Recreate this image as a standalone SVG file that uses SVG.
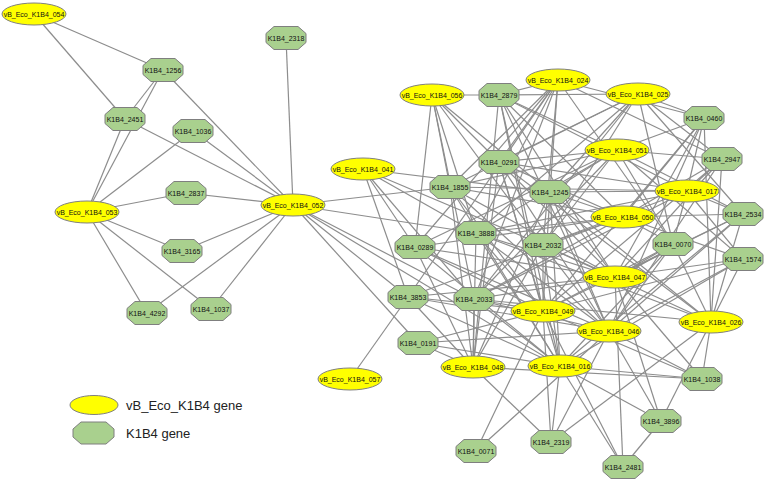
<svg xmlns="http://www.w3.org/2000/svg" xmlns:xlink="http://www.w3.org/1999/xlink" width="767" height="482" viewBox="0 0 767 482">
<style>
.e line{stroke:#8d8d8d;stroke-width:1.2;fill:none}
.y ellipse{fill:#ffff00;stroke:#808080;stroke-width:1}
.g polygon,.g use{fill:#a9d08e;stroke:#7f7f7f;stroke-width:1}
.n text{font-family:"Liberation Sans",Arial,sans-serif;font-size:7px;fill:#111;text-anchor:middle;dominant-baseline:central}
.lg{font-family:"Liberation Sans",Arial,sans-serif;font-size:13px;fill:#222}
</style>
<defs>
<polygon id="oct" points="-12,-11.5 12,-11.5 20,-4.5 20,4.5 12,11.5 -12,11.5 -20,4.5 -20,-4.5"/>
</defs>
<rect width="767" height="482" fill="#ffffff"/>
<g id="connectors" class="e">
<line x1="34" y1="14" x2="163" y2="70"/>
<line x1="34" y1="14" x2="125" y2="119"/>
<line x1="163" y1="70" x2="125" y2="119"/>
<line x1="163" y1="70" x2="293" y2="205"/>
<line x1="125" y1="119" x2="293" y2="205"/>
<line x1="125" y1="119" x2="87" y2="212"/>
<line x1="163" y1="70" x2="87" y2="212"/>
<line x1="193" y1="131" x2="87" y2="212"/>
<line x1="193" y1="131" x2="293" y2="205"/>
<line x1="186" y1="193" x2="87" y2="212"/>
<line x1="186" y1="193" x2="293" y2="205"/>
<line x1="182" y1="251" x2="87" y2="212"/>
<line x1="182" y1="251" x2="293" y2="205"/>
<line x1="147" y1="313" x2="87" y2="212"/>
<line x1="147" y1="313" x2="293" y2="205"/>
<line x1="211" y1="309" x2="87" y2="212"/>
<line x1="211" y1="309" x2="293" y2="205"/>
<line x1="286" y1="38" x2="293" y2="205"/>
<line x1="293" y1="205" x2="450" y2="187"/>
<line x1="293" y1="205" x2="476" y2="233"/>
<line x1="293" y1="205" x2="408" y2="297"/>
<line x1="293" y1="205" x2="418" y2="343"/>
<line x1="293" y1="205" x2="474" y2="299"/>
<line x1="293" y1="205" x2="560" y2="366"/>
<line x1="363" y1="169" x2="408" y2="297"/>
<line x1="363" y1="169" x2="476" y2="233"/>
<line x1="363" y1="169" x2="415" y2="247"/>
<line x1="363" y1="169" x2="543" y2="245"/>
<line x1="363" y1="169" x2="550" y2="192"/>
<line x1="363" y1="169" x2="474" y2="299"/>
<line x1="350" y1="379" x2="408" y2="297"/>
<line x1="432" y1="95" x2="499" y2="95"/>
<line x1="432" y1="95" x2="450" y2="187"/>
<line x1="432" y1="95" x2="415" y2="247"/>
<line x1="432" y1="95" x2="499" y2="162"/>
<line x1="432" y1="95" x2="550" y2="192"/>
<line x1="432" y1="95" x2="476" y2="233"/>
<line x1="432" y1="95" x2="543" y2="245"/>
<line x1="432" y1="95" x2="474" y2="299"/>
<line x1="558" y1="80" x2="499" y2="95"/>
<line x1="558" y1="80" x2="499" y2="162"/>
<line x1="558" y1="80" x2="450" y2="187"/>
<line x1="558" y1="80" x2="550" y2="192"/>
<line x1="558" y1="80" x2="476" y2="233"/>
<line x1="558" y1="80" x2="543" y2="245"/>
<line x1="558" y1="80" x2="415" y2="247"/>
<line x1="558" y1="80" x2="474" y2="299"/>
<line x1="558" y1="80" x2="704" y2="118"/>
<line x1="558" y1="80" x2="722" y2="159"/>
<line x1="558" y1="80" x2="673" y2="244"/>
<line x1="558" y1="80" x2="408" y2="297"/>
<line x1="638" y1="94" x2="499" y2="95"/>
<line x1="638" y1="94" x2="704" y2="118"/>
<line x1="638" y1="94" x2="499" y2="162"/>
<line x1="638" y1="94" x2="550" y2="192"/>
<line x1="638" y1="94" x2="476" y2="233"/>
<line x1="638" y1="94" x2="543" y2="245"/>
<line x1="638" y1="94" x2="722" y2="159"/>
<line x1="638" y1="94" x2="673" y2="244"/>
<line x1="638" y1="94" x2="743" y2="214"/>
<line x1="638" y1="94" x2="474" y2="299"/>
<line x1="638" y1="94" x2="450" y2="187"/>
<line x1="617" y1="150" x2="499" y2="95"/>
<line x1="617" y1="150" x2="499" y2="162"/>
<line x1="617" y1="150" x2="550" y2="192"/>
<line x1="617" y1="150" x2="704" y2="118"/>
<line x1="617" y1="150" x2="722" y2="159"/>
<line x1="617" y1="150" x2="476" y2="233"/>
<line x1="617" y1="150" x2="543" y2="245"/>
<line x1="617" y1="150" x2="415" y2="247"/>
<line x1="617" y1="150" x2="743" y2="214"/>
<line x1="617" y1="150" x2="474" y2="299"/>
<line x1="617" y1="150" x2="450" y2="187"/>
<line x1="617" y1="150" x2="743" y2="259"/>
<line x1="617" y1="150" x2="673" y2="244"/>
<line x1="687" y1="191" x2="704" y2="118"/>
<line x1="687" y1="191" x2="722" y2="159"/>
<line x1="687" y1="191" x2="743" y2="214"/>
<line x1="687" y1="191" x2="743" y2="259"/>
<line x1="687" y1="191" x2="673" y2="244"/>
<line x1="687" y1="191" x2="550" y2="192"/>
<line x1="687" y1="191" x2="499" y2="162"/>
<line x1="687" y1="191" x2="499" y2="95"/>
<line x1="687" y1="191" x2="476" y2="233"/>
<line x1="687" y1="191" x2="543" y2="245"/>
<line x1="687" y1="191" x2="474" y2="299"/>
<line x1="687" y1="191" x2="450" y2="187"/>
<line x1="623" y1="217" x2="704" y2="118"/>
<line x1="623" y1="217" x2="722" y2="159"/>
<line x1="623" y1="217" x2="743" y2="214"/>
<line x1="623" y1="217" x2="743" y2="259"/>
<line x1="623" y1="217" x2="673" y2="244"/>
<line x1="623" y1="217" x2="550" y2="192"/>
<line x1="623" y1="217" x2="499" y2="162"/>
<line x1="623" y1="217" x2="499" y2="95"/>
<line x1="623" y1="217" x2="476" y2="233"/>
<line x1="623" y1="217" x2="543" y2="245"/>
<line x1="623" y1="217" x2="415" y2="247"/>
<line x1="623" y1="217" x2="474" y2="299"/>
<line x1="623" y1="217" x2="408" y2="297"/>
<line x1="623" y1="217" x2="450" y2="187"/>
<line x1="615" y1="277" x2="704" y2="118"/>
<line x1="615" y1="277" x2="722" y2="159"/>
<line x1="615" y1="277" x2="743" y2="214"/>
<line x1="615" y1="277" x2="743" y2="259"/>
<line x1="615" y1="277" x2="673" y2="244"/>
<line x1="616" y1="279" x2="674" y2="246"/>
<line x1="615" y1="277" x2="550" y2="192"/>
<line x1="615" y1="277" x2="499" y2="162"/>
<line x1="615" y1="277" x2="499" y2="95"/>
<line x1="615" y1="277" x2="476" y2="233"/>
<line x1="615" y1="277" x2="543" y2="245"/>
<line x1="615" y1="277" x2="415" y2="247"/>
<line x1="615" y1="277" x2="474" y2="299"/>
<line x1="615" y1="277" x2="408" y2="297"/>
<line x1="615" y1="277" x2="702" y2="379"/>
<line x1="615" y1="277" x2="450" y2="187"/>
<line x1="615" y1="277" x2="661" y2="421"/>
<line x1="615" y1="277" x2="623" y2="467"/>
<line x1="543" y1="311" x2="499" y2="95"/>
<line x1="543" y1="311" x2="499" y2="162"/>
<line x1="543" y1="311" x2="450" y2="187"/>
<line x1="543" y1="311" x2="550" y2="192"/>
<line x1="543" y1="311" x2="476" y2="233"/>
<line x1="543" y1="311" x2="415" y2="247"/>
<line x1="543" y1="311" x2="543" y2="245"/>
<line x1="543" y1="311" x2="474" y2="299"/>
<line x1="543" y1="311" x2="408" y2="297"/>
<line x1="543" y1="311" x2="418" y2="343"/>
<line x1="543" y1="311" x2="704" y2="118"/>
<line x1="543" y1="311" x2="722" y2="159"/>
<line x1="543" y1="311" x2="743" y2="214"/>
<line x1="543" y1="311" x2="673" y2="244"/>
<line x1="543" y1="311" x2="743" y2="259"/>
<line x1="543" y1="311" x2="702" y2="379"/>
<line x1="543" y1="311" x2="476" y2="451"/>
<line x1="543" y1="311" x2="551" y2="442"/>
<line x1="543" y1="311" x2="623" y2="467"/>
<line x1="609" y1="331" x2="499" y2="95"/>
<line x1="609" y1="331" x2="499" y2="162"/>
<line x1="609" y1="331" x2="450" y2="187"/>
<line x1="609" y1="331" x2="550" y2="192"/>
<line x1="609" y1="331" x2="476" y2="233"/>
<line x1="609" y1="331" x2="415" y2="247"/>
<line x1="609" y1="331" x2="543" y2="245"/>
<line x1="609" y1="331" x2="474" y2="299"/>
<line x1="609" y1="331" x2="408" y2="297"/>
<line x1="609" y1="331" x2="418" y2="343"/>
<line x1="609" y1="331" x2="704" y2="118"/>
<line x1="609" y1="331" x2="722" y2="159"/>
<line x1="609" y1="331" x2="743" y2="214"/>
<line x1="609" y1="331" x2="673" y2="244"/>
<line x1="609" y1="331" x2="743" y2="259"/>
<line x1="609" y1="331" x2="702" y2="379"/>
<line x1="609" y1="331" x2="661" y2="421"/>
<line x1="609" y1="331" x2="551" y2="442"/>
<line x1="609" y1="331" x2="476" y2="451"/>
<line x1="711" y1="322" x2="704" y2="118"/>
<line x1="711" y1="322" x2="722" y2="159"/>
<line x1="711" y1="322" x2="743" y2="214"/>
<line x1="711" y1="322" x2="743" y2="259"/>
<line x1="711" y1="322" x2="673" y2="244"/>
<line x1="711" y1="322" x2="550" y2="192"/>
<line x1="711" y1="322" x2="476" y2="233"/>
<line x1="711" y1="322" x2="543" y2="245"/>
<line x1="711" y1="322" x2="474" y2="299"/>
<line x1="711" y1="322" x2="702" y2="379"/>
<line x1="711" y1="322" x2="661" y2="421"/>
<line x1="711" y1="322" x2="551" y2="442"/>
<line x1="711" y1="322" x2="499" y2="162"/>
<line x1="473" y1="367" x2="408" y2="297"/>
<line x1="473" y1="367" x2="474" y2="299"/>
<line x1="473" y1="367" x2="418" y2="343"/>
<line x1="473" y1="367" x2="415" y2="247"/>
<line x1="473" y1="367" x2="476" y2="233"/>
<line x1="473" y1="367" x2="450" y2="187"/>
<line x1="473" y1="367" x2="499" y2="162"/>
<line x1="473" y1="367" x2="499" y2="95"/>
<line x1="473" y1="367" x2="550" y2="192"/>
<line x1="473" y1="367" x2="543" y2="245"/>
<line x1="473" y1="367" x2="551" y2="442"/>
<line x1="473" y1="367" x2="702" y2="379"/>
<line x1="560" y1="366" x2="408" y2="297"/>
<line x1="560" y1="366" x2="474" y2="299"/>
<line x1="560" y1="366" x2="418" y2="343"/>
<line x1="560" y1="366" x2="415" y2="247"/>
<line x1="560" y1="366" x2="476" y2="233"/>
<line x1="560" y1="366" x2="450" y2="187"/>
<line x1="560" y1="366" x2="499" y2="162"/>
<line x1="560" y1="366" x2="499" y2="95"/>
<line x1="560" y1="366" x2="550" y2="192"/>
<line x1="560" y1="366" x2="543" y2="245"/>
<line x1="560" y1="366" x2="673" y2="244"/>
<line x1="560" y1="366" x2="743" y2="214"/>
<line x1="560" y1="366" x2="743" y2="259"/>
<line x1="560" y1="366" x2="702" y2="379"/>
<line x1="560" y1="366" x2="661" y2="421"/>
<line x1="560" y1="366" x2="623" y2="467"/>
<line x1="560" y1="366" x2="551" y2="442"/>
<line x1="661" y1="421" x2="623" y2="467"/>
</g>
<g id="n_054" class="n y"><ellipse cx="34" cy="14" rx="32" ry="11"/><text x="34" y="14">vB_Eco_K1B4_054</text></g>
<g id="n_053" class="n y"><ellipse cx="87" cy="212" rx="32" ry="11"/><text x="87" y="212">vB_Eco_K1B4_053</text></g>
<g id="n_052" class="n y"><ellipse cx="293" cy="205" rx="32" ry="11"/><text x="293" y="205">vB_Eco_K1B4_052</text></g>
<g id="n_056" class="n y"><ellipse cx="432" cy="95" rx="32" ry="11"/><text x="432" y="95">vB_Eco_K1B4_056</text></g>
<g id="n_024" class="n y"><ellipse cx="558" cy="80" rx="32" ry="11"/><text x="558" y="80">vB_Eco_K1B4_024</text></g>
<g id="n_025" class="n y"><ellipse cx="638" cy="94" rx="32" ry="11"/><text x="638" y="94">vB_Eco_K1B4_025</text></g>
<g id="n_041" class="n y"><ellipse cx="363" cy="169" rx="32" ry="11"/><text x="363" y="169">vB_Eco_K1B4_041</text></g>
<g id="n_051" class="n y"><ellipse cx="617" cy="150" rx="32" ry="11"/><text x="617" y="150">vB_Eco_K1B4_051</text></g>
<g id="n_017" class="n y"><ellipse cx="687" cy="191" rx="32" ry="11"/><text x="687" y="191">vB_Eco_K1B4_017</text></g>
<g id="n_050" class="n y"><ellipse cx="623" cy="217" rx="32" ry="11"/><text x="623" y="217">vB_Eco_K1B4_050</text></g>
<g id="n_047" class="n y"><ellipse cx="615" cy="277" rx="32" ry="11"/><text x="615" y="277">vB_Eco_K1B4_047</text></g>
<g id="n_049" class="n y"><ellipse cx="543" cy="311" rx="32" ry="11"/><text x="543" y="311">vB_Eco_K1B4_049</text></g>
<g id="n_046" class="n y"><ellipse cx="609" cy="331" rx="32" ry="11"/><text x="609" y="331">vB_Eco_K1B4_046</text></g>
<g id="n_026" class="n y"><ellipse cx="711" cy="322" rx="32" ry="11"/><text x="711" y="322">vB_Eco_K1B4_026</text></g>
<g id="n_048" class="n y"><ellipse cx="473" cy="367" rx="32" ry="11"/><text x="473" y="367">vB_Eco_K1B4_048</text></g>
<g id="n_016" class="n y"><ellipse cx="560" cy="366" rx="32" ry="11"/><text x="560" y="366">vB_Eco_K1B4_016</text></g>
<g id="n_057" class="n y"><ellipse cx="350" cy="379" rx="32" ry="11"/><text x="350" y="379">vB_Eco_K1B4_057</text></g>
<g id="n_2318" class="n g" transform="translate(286,38)"><use href="#oct"/><text>K1B4_2318</text></g>
<g id="n_1256" class="n g" transform="translate(163,70)"><use href="#oct"/><text>K1B4_1256</text></g>
<g id="n_2451" class="n g" transform="translate(125,119)"><use href="#oct"/><text>K1B4_2451</text></g>
<g id="n_1036" class="n g" transform="translate(193,131)"><use href="#oct"/><text>K1B4_1036</text></g>
<g id="n_2837" class="n g" transform="translate(186,193)"><use href="#oct"/><text>K1B4_2837</text></g>
<g id="n_3165" class="n g" transform="translate(182,251)"><use href="#oct"/><text>K1B4_3165</text></g>
<g id="n_4292" class="n g" transform="translate(147,313)"><use href="#oct"/><text>K1B4_4292</text></g>
<g id="n_1037" class="n g" transform="translate(211,309)"><use href="#oct"/><text>K1B4_1037</text></g>
<g id="n_2879" class="n g" transform="translate(499,95)"><use href="#oct"/><text>K1B4_2879</text></g>
<g id="n_0460" class="n g" transform="translate(704,118)"><use href="#oct"/><text>K1B4_0460</text></g>
<g id="n_0291" class="n g" transform="translate(499,162)"><use href="#oct"/><text>K1B4_0291</text></g>
<g id="n_2947" class="n g" transform="translate(722,159)"><use href="#oct"/><text>K1B4_2947</text></g>
<g id="n_1855" class="n g" transform="translate(450,187)"><use href="#oct"/><text>K1B4_1855</text></g>
<g id="n_1245" class="n g" transform="translate(550,192)"><use href="#oct"/><text>K1B4_1245</text></g>
<g id="n_2534" class="n g" transform="translate(743,214)"><use href="#oct"/><text>K1B4_2534</text></g>
<g id="n_3888" class="n g" transform="translate(476,233)"><use href="#oct"/><text>K1B4_3888</text></g>
<g id="n_0289" class="n g" transform="translate(415,247)"><use href="#oct"/><text>K1B4_0289</text></g>
<g id="n_2032" class="n g" transform="translate(543,245)"><use href="#oct"/><text>K1B4_2032</text></g>
<g id="n_0070" class="n g" transform="translate(673,244)"><use href="#oct"/><text>K1B4_0070</text></g>
<g id="n_1574" class="n g" transform="translate(743,259)"><use href="#oct"/><text>K1B4_1574</text></g>
<g id="n_3853" class="n g" transform="translate(408,297)"><use href="#oct"/><text>K1B4_3853</text></g>
<g id="n_2033" class="n g" transform="translate(474,299)"><use href="#oct"/><text>K1B4_2033</text></g>
<g id="n_0191" class="n g" transform="translate(418,343)"><use href="#oct"/><text>K1B4_0191</text></g>
<g id="n_1038" class="n g" transform="translate(702,379)"><use href="#oct"/><text>K1B4_1038</text></g>
<g id="n_3896" class="n g" transform="translate(661,421)"><use href="#oct"/><text>K1B4_3896</text></g>
<g id="n_2319" class="n g" transform="translate(551,442)"><use href="#oct"/><text>K1B4_2319</text></g>
<g id="n_0071" class="n g" transform="translate(476,451)"><use href="#oct"/><text>K1B4_0071</text></g>
<g id="n_2481" class="n g" transform="translate(623,467)"><use href="#oct"/><text>K1B4_2481</text></g>
<g id="legend">
<g class="y"><ellipse cx="94" cy="405" rx="24" ry="9.5"/></g>
<text class="lg" x="126" y="409.5">vB_Eco_K1B4 gene</text>
<g class="g"><polygon points="81,422 106,422 114,429 114,437 106,444 81,444 73,437 73,429"/></g>
<text class="lg" x="126" y="437.5">K1B4 gene</text>
</g>
</svg>
